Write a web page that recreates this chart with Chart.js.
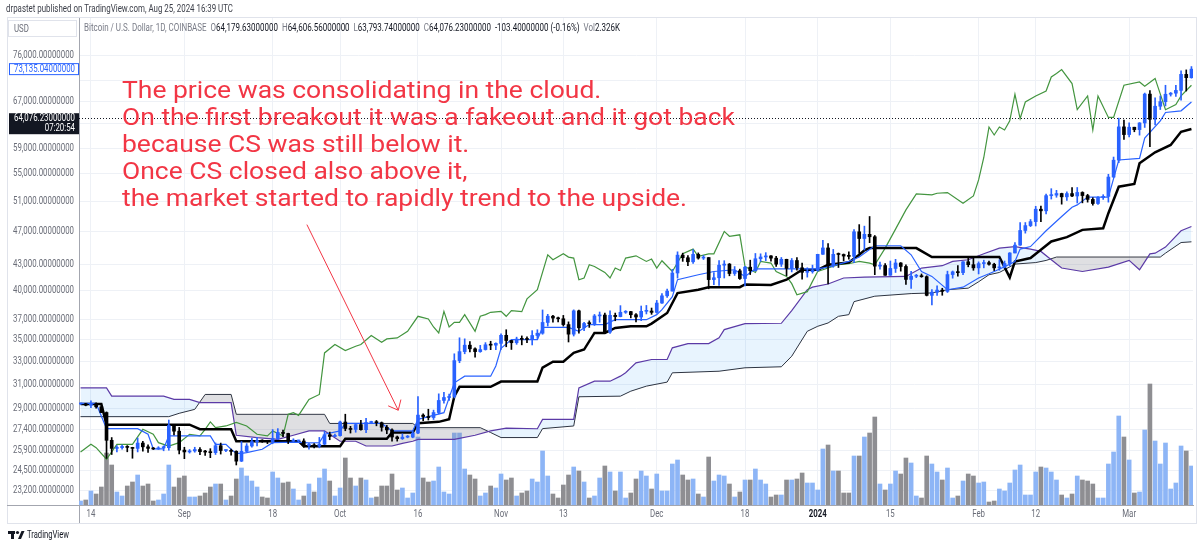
<!DOCTYPE html>
<html lang="en">
<head>
  <meta charset="UTF-8"/>
  <title>BTCUSD 1D • Ichimoku</title>
  <script src="https://cdn.jsdelivr.net/npm/chart.js"></script>
  <style>
    html, body { margin: 0; background: #fff; }
    canvas { display: block; }
  </style>
</head>
<body>
  <canvas id="chart" width="1200" height="547"></canvas>
  <script>
    // Coinbase BTC/USD daily, index 0 = 12 Aug 2023 ... index 214 = 13 Mar 2024
    const opens = [
      29400,29420,29300,29430,29170,28720,26630,26050,26100,26190,
      26120,26050,26430,26160,26050,26010,26090,26100,27720,27300,
      25930,25800,25870,25970,25820,25790,25750,26240,25900,25900,
      25840,25160,25840,26220,26530,26600,26570,26530,26760,27210,
      27130,26570,26580,26580,26260,26300,26210,26350,27030,26910,
      26970,27990,27500,27430,27790,27410,27950,27970,27940,27590,
      27390,26870,26750,26860,26860,27160,28520,28410,28330,28720,
      29680,29920,30000,33080,33900,34500,34160,33900,34090,34540,
      34500,34670,35440,34940,34730,35080,35050,35040,35420,35640,
      36700,37330,37140,37070,36490,35550,37880,36170,36600,36580,
      37360,37450,35750,37420,37290,37730,37800,37480,37250,37830,
      37860,37720,38690,39460,39970,41990,44080,43770,43290,44170,
      43730,43790,41240,41450,42890,43020,41930,42240,41360,42660,
      42260,43650,43860,43990,43720,43010,43580,42520,43440,42590,
      42070,42140,42280,44180,44950,42850,44180,44160,43970,43930,
      46970,46120,46650,46340,42780,42850,41730,42510,43150,42740,
      41260,41620,41660,41570,39510,39850,40080,39940,41810,42120,
      42030,43290,42950,42580,43080,43190,43000,42580,42660,43090,
      44340,45300,47140,47770,48290,49950,49730,51830,51900,52130,
      51660,52120,51780,52280,51840,51300,50730,51570,51730,54520,
      57080,62500,61200,62440,62030,63170,68330,63800,66110,66940,
      68300,68500,69020,72100,71450
    ]
    const highs = [
      29480,29450,29660,29480,29240,28770,26830,26250,26280,26250,
      26130,26800,26560,26310,26110,26170,26230,28140,27760,27580,
      26130,25970,26130,26100,25920,26030,26440,26430,25940,26000,
      25880,26540,26390,26780,26850,26670,26620,27420,27490,27380,
      27150,26740,26640,26740,26420,26390,26840,27290,27230,27090,
      28060,28590,27660,27840,28120,28270,28050,28110,27990,27730,
      27480,26940,27100,26980,27290,30000,28610,28980,28910,30220,
      30340,30190,33700,35200,35100,34830,34240,34480,34740,34870,
      34720,35580,35980,34950,35260,35380,35290,35890,35980,37970,
      37520,37410,37230,37410,36760,37980,37950,36720,36860,37510,
      37760,37650,37880,37650,38420,37900,37830,37600,38380,38440,
      38170,38970,39700,40200,42410,44480,44320,44040,44740,44350,
      44040,43800,42050,43440,43420,43090,42730,42430,42760,43480,
      44280,44240,44380,44020,43940,43800,43600,43680,43800,43130,
      42590,42900,44190,45900,45500,44770,44340,44220,44490,47250,
      47900,47700,48970,46500,43250,43080,43380,43580,43200,42930,
      42180,41830,41880,41670,40140,40550,40280,42200,42220,42840,
      43310,43880,43740,43280,43480,43380,43120,43520,43380,44380,
      45600,48180,48170,48570,50350,50370,52040,52820,52580,52180,
      52360,52990,52990,52380,52020,51540,51680,51960,54930,57570,
      64000,63680,63170,62440,63230,68520,69000,67640,67980,69990,
      68630,70000,72800,72980,73650
    ]
    const lows = [
      29360,29250,29100,29060,28710,25350,25620,25800,26000,25810,
      25360,25800,25860,25770,25970,25980,25880,25920,27020,25660,
      25330,25720,25780,25610,25560,25400,25620,25650,25810,25580,
      24900,25130,25770,26130,26230,26480,26390,26380,26680,26890,
      26390,26480,26510,26130,25990,26090,26090,26320,26670,26900,
      26940,27330,27160,27220,27370,27180,27860,27700,27300,27110,
      26570,26570,26690,26810,26810,27120,28100,28140,28180,28610,
      29470,29690,29880,32890,33700,33880,33400,33840,34040,34080,
      34070,34100,34350,34100,34580,34530,34740,34520,35140,35540,
      36340,36730,36760,36340,34800,35370,35650,35880,36210,36400,
      36720,35720,35630,36870,37260,37620,37160,36750,36880,37560,
      37520,37630,38650,39290,39970,41410,43340,42820,43100,43600,
      43560,40220,40680,40600,41420,41670,41710,41260,40530,41810,
      42200,43330,43420,43350,42760,42740,41690,42110,42320,41300,
      41520,41970,42190,44180,40750,42650,42620,43400,43600,43200,
      44300,44700,45600,41800,42440,41720,41720,42050,42200,40700,
      40270,41460,41500,39450,38500,39500,39520,39820,41400,41640,
      41800,42700,42300,41880,42580,42900,42270,42300,42580,42800,
      44340,45250,46800,47640,47720,48300,49300,51350,51600,50640,
      51170,51700,50800,50820,50920,50500,50600,51300,50920,54460,
      56700,60400,60800,61670,61110,62400,59230,62850,65520,66160,
      67960,67900,67200,68900,71350
    ]
    const closes = [
      29420,29300,29430,29170,28720,26630,26050,26100,26190,26120,
      26050,26430,26160,26050,26010,26090,26100,27720,27300,25930,
      25800,25870,25970,25820,25790,25750,26240,25900,25900,25840,
      25160,25840,26220,26530,26600,26570,26530,26760,27210,27130,
      26570,26580,26580,26260,26300,26210,26350,27030,26910,26970,
      27990,27500,27430,27790,27410,27950,27970,27940,27590,27390,
      26870,26750,26860,26860,27160,28520,28410,28330,28720,29680,
      29920,30000,33080,33900,34500,34160,33900,34090,34540,34500,
      34670,35440,34940,34730,35080,35050,35040,35420,35640,36700,
      37330,37140,37070,36490,35550,37880,36170,36600,36580,37360,
      37450,35750,37420,37290,37730,37800,37480,37250,37830,37860,
      37720,38690,39460,39970,41990,44080,43770,43290,44170,43730,
      43790,41240,41450,42890,43020,41930,42240,41360,42660,42260,
      43650,43860,43990,43720,43010,43580,42520,43440,42590,42070,
      42140,42280,44180,44950,42850,44180,44160,43970,43930,46970,
      46120,46650,46340,42780,42850,41730,42510,43150,42740,41260,
      41620,41660,41570,39510,39850,40080,39940,41810,42120,42030,
      43290,42950,42580,43080,43190,43000,42580,42660,43090,44340,
      45300,47140,47770,48290,49950,49730,51830,51900,52130,51660,
      52120,51780,52280,51840,51300,50730,51570,51730,54520,57080,
      62500,61200,62440,62030,63170,68330,63800,66110,66940,68300,
      68500,69020,72100,71450,73135.04
    ]
    // volume, thousand BTC
    const volumes = [
      1.2,1.5,4.2,3.3,5.4,15.6,12,3.9,2.7,5.7,
      6.9,9,5.7,6.3,1.2,1.5,3.3,12,5.4,8.1,
      8.7,2.4,2.4,2.7,3.6,5.4,6.3,6.3,1.5,2.7,
      7.8,11.1,8.7,7.2,5.4,2.4,2.1,9.9,8.1,6.6,
      6.9,4.8,1.5,2.7,6.3,3.9,8.1,10.8,7.2,2.7,
      5.1,14.1,8.1,5.7,8.1,7.5,2.1,2.4,5.7,5.7,
      9.3,4.5,5.1,2.1,3.6,20.4,8.1,6.9,7.2,11.4,
      3.9,3.3,21.6,21.6,10.8,9,7.8,2.7,3.6,5.7,
      5.1,9.3,7.5,8.1,2.7,3.6,4.2,7.8,6.9,16.2,
      8.7,3.3,2.1,6,9,11.4,10.2,6.9,2.1,2.7,
      8.1,11.7,9.9,4.2,9.9,2.1,3.6,7.8,10.2,8.7,
      4.8,9.3,4.2,4.2,12.3,13.5,9,7.5,7.8,3.3,
      2.4,14.4,7.2,9,8.7,6.3,2.4,3.9,7.5,7.5,
      10.8,7.5,6.3,2.4,3,3,7.5,7.5,7.8,9.6,
      6.6,6.6,4.5,16.8,18,10.2,10.2,3.6,3.6,14.7,
      14.7,20.4,21.6,26.4,6.3,4.5,6.3,10.2,9.3,14.1,
      12.6,2.7,2.1,14.7,12.3,9.9,7.5,11.1,2.1,2.7,
      7.2,9.3,8.7,6.6,6.9,0.9,1.2,4.8,4.2,6.6,
      10.5,12,3,3,9.9,11.4,11.1,9.9,7.5,3,
      2.1,3.3,8.7,7.5,7.2,6.3,2.1,2.1,12.3,15.9,
      26.7,20.4,13.5,3.6,3.9,22.5,36.3,19.2,12.3,18.6,
      4.8,6.6,17.7,16.2,11.7
    ]

    // ichimoku lines as [day index, price] corners
    const tenkan = [[0,29440],[3,29440],[5,27490],[11,27490],[13,27070],[14,26020],[16,26020],[17,26950],[25,26950],[26,26340],[28,26340],[29,25990],[30,25700],[31,25700],[32,25750],[35,25990],[37,26460],[41,26500],[44,26450],[46,26460],[47,27070],[50,27320],[51,27880],[58,27880],[60,27320],[64,27320],[65,28190],[70,28710],[72,31140],[74,31710],[79,31710],[80,32600],[81,34200],[83,35030],[88,35030],[89,36210],[94,36210],[96,35830],[98,36490],[101,36490],[103,36980],[109,36980],[111,37490],[112,38000],[114,39360],[115,41230],[119,41790],[122,42160],[126,42360],[128,41600],[130,42470],[142,42470],[144,42670],[148,43330],[150,43850],[153,45220],[158,45220],[160,44120],[162,42160],[164,41600],[167,40120],[170,40400],[173,41420],[175,41900],[176,42160],[178,42710],[180,43330],[181,44810],[183,45120],[186,47100],[189,48960],[191,50220],[192,50540],[194,51620],[198,51620],[200,57110],[204,57370],[205,60620],[208,63530],[209,64990],[212,65290],[214,66880]]
    const kijun = [[0,29400],[4,29400],[5,27790],[21,27790],[23,27450],[29,27450],[30,26570],[42,26570],[43,26200],[50,26200],[51,26740],[59,26740],[60,27200],[64,27200],[65,27900],[69,28000],[71,28200],[72,30000],[73,30800],[79,30800],[81,31250],[88,31250],[89,32450],[91,32980],[93,32980],[95,33780],[97,34090],[99,35670],[101,35670],[103,36160],[106,36320],[109,36320],[110,36590],[113,37660],[115,39750],[119,40120],[121,40400],[127,40400],[128,40700],[133,40650],[136,41230],[139,42360],[142,42360],[144,42940],[148,43200],[150,44120],[151,44650],[152,44930],[161,44930],[164,43860],[177,43860],[179,41490],[180,43330],[183,43730],[185,44730],[187,45750],[190,46290],[193,47220],[197,47430],[198,49410],[200,53110],[203,53500],[204,56590],[207,58310],[210,59490],[212,61670],[214,62140]]
    const chikou = [[0,25800],[2,26340],[3,26100],[5,25290],[7,26340],[10,26340],[12,27440],[14,27070],[15,26460],[17,26220],[19,26460],[21,27070],[23,26950],[24,27440],[25,28000],[26,27560],[28,27690],[30,27960],[32,27690],[34,27070],[36,26950],[37,27320],[39,26950],[40,28580],[41,28710],[42,28500],[44,29770],[46,30170],[47,33780],[49,34560],[51,33990],[53,34400],[54,34560],[56,35420],[58,34770],[59,35090],[61,35190],[63,35830],[65,37320],[67,37050],[68,36250],[69,35670],[70,37820],[71,36250],[72,36710],[73,36710],[74,37490],[76,35830],[77,37320],[78,37490],[79,37730],[81,37830],[82,37320],[83,37900],[85,37790],[86,39130],[88,40120],[90,44120],[91,43530],[93,44240],[94,43850],[95,43730],[96,41230],[97,41420],[98,42940],[99,42740],[101,42050],[102,41420],[103,42560],[104,42280],[105,43730],[107,44000],[109,43330],[110,43610],[111,42560],[112,43410],[114,42160],[116,44240],[118,44810],[119,43930],[121,44240],[122,44240],[124,47020],[125,46400],[127,46590],[128,42740],[130,42050],[131,43330],[133,43140],[134,42160],[136,41600],[137,40790],[138,39580],[140,39910],[141,41040],[142,42160],[144,42560],[146,42940],[148,43060],[150,43330],[152,43140],[153,42940],[155,44930],[157,47310],[159,49860],[161,52070],[164,51930],[165,52170],[167,52260],[170,50770],[172,51790],[173,54090],[174,57500],[175,62470],[176,61130],[177,62470],[178,61960],[179,63530],[180,68300],[181,63930],[182,66880],[184,67990],[186,68910],[187,71600],[188,72260],[189,73050],[191,70320],[192,65490],[194,67990],[195,61960],[196,67990],[198,64120],[199,64120],[201,70000],[204,70620],[205,69810],[207,71310],[209,65490],[211,66420],[212,67990],[214,70000]]
    const senkouA = [[0,30710],[5,30710],[6,30030],[16,30030],[18,29770],[21,29770],[23,29500],[29,29500],[30,27000],[34,26830],[38,26700],[41,27000],[44,27320],[47,27320],[50,26560],[53,26560],[55,26220],[60,26220],[62,26410],[64,26560],[65,26700],[72,26700],[76,27000],[79,27320],[82,27520],[88,27480],[89,28190],[95,28190],[96,30710],[99,31280],[102,31280],[104,31710],[105,32000],[107,32880],[110,33180],[113,33180],[114,34250],[117,34650],[121,34650],[123,35190],[124,35990],[128,36590],[135,36620],[137,37900],[140,40120],[141,40400],[144,40750],[147,41420],[151,41530],[159,41600],[162,42560],[166,42830],[168,43330],[171,43530],[174,44240],[177,44930],[180,45120],[183,44810],[185,44530],[187,43530],[189,42560],[193,42160],[198,42670],[202,43450],[204,42360],[206,44240],[207,44320],[209,45050],[212,47100],[214,47660]]
    const senkouB = [[0,28400],[17,28400],[19,28660],[22,28970],[24,30170],[29,30170],[30,28580],[47,28580],[48,27880],[64,27880],[65,27560],[77,27560],[79,27200],[81,26830],[88,26830],[89,27490],[95,27690],[96,29980],[104,30030],[106,30440],[109,30860],[113,31200],[114,32000],[123,32140],[128,32440],[135,32530],[137,33480],[140,35830],[142,36320],[144,36650],[146,37320],[148,37490],[149,38840],[153,39420],[160,39700],[164,39770],[167,40120],[171,40290],[173,41000],[175,41790],[177,42050],[180,43020],[184,43200],[186,43450],[188,43850],[208,43850],[209,44320],[212,45620],[214,45710]]

    const xTickIdx = [2,20,37,50,65,81,93,111,128,142,156,173,184,202]
    const xTickText = ['14','Sep','18','Oct','16','Nov','13','Dec','18','2024','15','Feb','12','Mar']
    const yTicks = [76000,71000,67000,63000,59000,55000,51000,47000,43000,40000,37000,35000,33000,31000,29000,27400,25900,24500,23200]

    const lastPrice = 64076.23, lastTimer = '07:20:54'
    const publishedLine = 'drpastet published on TradingView.com, Aug 25, 2024 16:39 UTC'
    const legendParts = [
      ['Bitcoin / U.S. Dollar, 1D, COINBASE  ', 'g'], ['O', 'g'], ['64,179.63000000', 'd'],
      ['  H', 'g'], ['64,606.56000000', 'd'], ['  L', 'g'], ['63,793.74000000', 'd'],
      ['  C', 'g'], ['64,076.23000000', 'd'], ['  -103.40000000 (-0.16%)', 'd'],
      ['  Vol', 'g'], ['2.326K', 'd']
    ]
    const note = [
      'The price was consolidating in the cloud.',
      'On the first breakout it was a fakeout and it got back',
      'because CS was still below it.',
      'Once CS closed also above it,',
      'the market started to rapidly trend to the upside.'
    ]
    // arrow in chart units: [day index, price]
    const arrowFrom = [43.6, 47900], arrowTo = [61.2, 28900]

    const UP = '#2962ff', DOWN = '#000000', RED = '#f23645', AXIS_TXT = '#6a6d78'
    const isUp = i => closes[i] >= opens[i]
    const pts = arr => arr.map(([x, y]) => ({ x, y }))
    const fmt = v => v.toLocaleString('en-US', { minimumFractionDigits: 8, maximumFractionDigits: 8 })

    function squeeze(ctx, text, px, py, k, align, color, font) {
      ctx.save()
      ctx.font = font
      ctx.fillStyle = color
      ctx.textAlign = align
      ctx.textBaseline = 'middle'
      ctx.translate(px, py)
      ctx.scale(k, 1)
      ctx.fillText(text, 0, 0)
      ctx.restore()
    }

    function fitParts(ctx, parts, px, py, width, font) {
      ctx.save()
      ctx.font = font
      ctx.textBaseline = 'middle'
      ctx.textAlign = 'left'
      const total = parts.reduce((s, p) => s + ctx.measureText(p[0]).width, 0)
      ctx.translate(px, py)
      ctx.scale(width / total, 1)
      let cx = 0
      parts.forEach(([t, c]) => {
        ctx.fillStyle = c === 'g' ? '#787b86' : c === 'd' ? '#131722' : c
        ctx.fillText(t, cx, 0)
        cx += ctx.measureText(t).width
      })
      ctx.restore()
    }

    const ui = {
      id: 'ui',
      afterDraw(chart) {
        const { ctx, chartArea: a, scales: { x, y } } = chart
        ctx.save()

        // frame round the widget
        ctx.strokeStyle = '#e0e3eb'
        ctx.lineWidth = 1
        ctx.strokeRect(7.5, 17.5, 1189, 506)
        ctx.strokeStyle = '#a3a6af'
        ctx.beginPath()
        ctx.moveTo(7, a.bottom + 0.5); ctx.lineTo(a.left, a.bottom + 0.5)
        ctx.moveTo(a.left + 0.5, a.bottom); ctx.lineTo(a.left + 0.5, 523)
        ctx.stroke()

        // last price dotted line
        const pLast = y.getPixelForValue(lastPrice)
        ctx.strokeStyle = '#131722'
        ctx.setLineDash([1, 2])
        ctx.beginPath()
        ctx.moveTo(a.left, Math.round(pLast) + 0.5); ctx.lineTo(a.right, Math.round(pLast) + 0.5)
        ctx.stroke()
        ctx.setLineDash([])

        // price scale labels
        ctx.font = '10px Roboto'
        const k = 61 / ctx.measureText('76,000.00000000').width
        const pClose = y.getPixelForValue(closes[closes.length - 1])
        yTicks.forEach(v => {
          const py = y.getPixelForValue(v)
          if (Math.abs(py - pClose) < 11 || Math.abs(py - (pLast + 6)) < 11) return
          squeeze(ctx, fmt(v), 74, py, k, 'right', AXIS_TXT, '10px Roboto')
        })
        ctx.fillStyle = '#fff'
        ctx.fillRect(9, pClose - 5.5, 70, 11)
        ctx.strokeStyle = UP
        ctx.strokeRect(9.5, pClose - 5.5, 69, 11)
        squeeze(ctx, fmt(closes[closes.length - 1]), 75, pClose, k, 'right', UP, '10px Roboto')
        ctx.fillStyle = '#131722'
        ctx.fillRect(9, pLast - 4.5, 70, 21)
        squeeze(ctx, fmt(lastPrice), 75, pLast + 0.5, k, 'right', '#fff', '10px Roboto')
        squeeze(ctx, lastTimer, 75, pLast + 10.5, k, 'right', '#fff', '10px Roboto')

        // time scale labels
        xTickIdx.forEach((v, i) => {
          const bold = xTickText[i] === '2024'
          squeeze(ctx, xTickText[i], x.getPixelForValue(v), 514, k, 'center',
            bold ? '#131722' : AXIS_TXT, (bold ? 'bold ' : '') + '10px Roboto')
        })

        // header
        fitParts(ctx, [[publishedLine, '#3b3e48']], 6, 9, 227, '11px Roboto')
        ctx.strokeStyle = '#e0e3eb'
        ctx.fillStyle = '#fff'
        ctx.fillRect(8, 20, 69, 17)
        ctx.strokeRect(8.5, 20.5, 68, 16)
        squeeze(ctx, 'USD', 14, 29, k, 'left', AXIS_TXT, '10px Roboto')
        fitParts(ctx, legendParts, 84, 28, 536, '10px Roboto')

        // annotation
        ctx.font = '24px Roboto'
        const kt = 613 / ctx.measureText(note[1]).width
        note.forEach((t, i) => {
          ctx.save()
          ctx.fillStyle = RED
          ctx.textBaseline = 'alphabetic'
          ctx.translate(122, 98 + i * 27)
          ctx.scale(kt, 1)
          ctx.fillText(t, 0, 0)
          ctx.restore()
        })

        // arrow
        const x0 = x.getPixelForValue(arrowFrom[0]), y0 = y.getPixelForValue(arrowFrom[1])
        const x1 = x.getPixelForValue(arrowTo[0]), y1 = y.getPixelForValue(arrowTo[1])
        const ang = Math.atan2(y0 - y1, x0 - x1)
        ctx.strokeStyle = RED
        ctx.lineWidth = 1
        ctx.beginPath()
        ctx.moveTo(x0, y0); ctx.lineTo(x1, y1)
        ctx.moveTo(x1 + 11 * Math.cos(ang - 0.7), y1 + 11 * Math.sin(ang - 0.7))
        ctx.lineTo(x1, y1)
        ctx.lineTo(x1 + 11 * Math.cos(ang + 0.7), y1 + 11 * Math.sin(ang + 0.7))
        ctx.stroke()

        // logo
        ctx.fillStyle = '#131722'
        ctx.fillRect(8, 531, 7, 3)
        ctx.fillRect(11, 531, 3, 8)
        ctx.beginPath(); ctx.arc(17.5, 532.5, 1.6, 0, Math.PI * 2); ctx.fill()
        ctx.beginPath()
        ctx.moveTo(18, 539); ctx.lineTo(21.5, 531); ctx.lineTo(24.5, 531); ctx.lineTo(21, 539)
        ctx.closePath(); ctx.fill()
        fitParts(ctx, [['TradingView', '#131722']], 27, 535.5, 42, '11px Roboto')
        ctx.restore()
      }
    }

    const days = closes.map((c, i) => i)
    const ctx = document.getElementById('chart').getContext('2d')
    new Chart(ctx, {
      type: 'bar',
      data: {
        datasets: [
          {
            label: 'bodies', order: 0, grouped: false, barThickness: 3, minBarLength: 1,
            data: days.map(i => ({ x: i, y: [opens[i], closes[i]] })),
            backgroundColor: days.map(i => isUp(i) ? UP : DOWN)
          },
          {
            label: 'wicks', order: 1, grouped: false, barThickness: 1,
            data: days.map(i => ({ x: i, y: [lows[i], highs[i]] })),
            backgroundColor: days.map(i => isUp(i) ? UP : DOWN)
          },
          { type: 'line', label: 'Tenkan', order: 2, data: pts(tenkan), borderColor: '#2962ff', borderWidth: 1.2, pointRadius: 0 },
          { type: 'line', label: 'Kijun', order: 3, data: pts(kijun), borderColor: '#000', borderWidth: 2.5, pointRadius: 0 },
          { type: 'line', label: 'Chikou', order: 4, data: pts(chikou), borderColor: '#43953f', borderWidth: 1.2, pointRadius: 0 },
          {
            type: 'line', label: 'Senkou A', order: 5, data: pts(senkouA), borderColor: '#5b3aa6', borderWidth: 1.2, pointRadius: 0,
            fill: { target: '+1', above: 'rgba(33,150,243,0.1)', below: 'rgba(120,123,134,0.24)' }
          },
          { type: 'line', label: 'Senkou B', order: 6, data: pts(senkouB), borderColor: '#2a2e39', borderWidth: 1, pointRadius: 0 },
          {
            label: 'Volume', order: 9, yAxisID: 'yv', grouped: false, barThickness: 4,
            data: days.map(i => ({ x: i, y: volumes[i] })),
            backgroundColor: days.map(i => isUp(i) ? '#8db5f6' : '#8e8e92')
          }
        ]
      },
      options: {
        responsive: false,
        animation: false,
        events: [],
        layout: { padding: { top: 17, right: 7, bottom: 0, left: 0 } },
        plugins: { legend: { display: false }, tooltip: { enabled: false } },
        scales: {
          x: {
            type: 'linear', min: -0.3, max: 214.3, offset: false,
            grid: { color: '#eef1f6', drawTicks: false, offset: false },
            border: { color: '#a3a6af' },
            ticks: { display: false },
            afterBuildTicks: s => { s.ticks = xTickIdx.map(v => ({ value: v })) },
            afterFit: s => { s.height = 42 }
          },
          y: {
            type: 'logarithmic', position: 'left', min: 22330, max: 84283, bounds: 'data',
            grid: { color: '#eef1f6', drawTicks: false },
            border: { color: '#a3a6af' },
            ticks: { display: false },
            afterBuildTicks: s => { s.ticks = yTicks.map(v => ({ value: v })) },
            afterFit: s => { s.width = 79 }
          },
          yv: { type: 'linear', display: false, min: 0, max: 146.4 }
        }
      },
      plugins: [ui]
    })
  </script>
</body>
</html>
